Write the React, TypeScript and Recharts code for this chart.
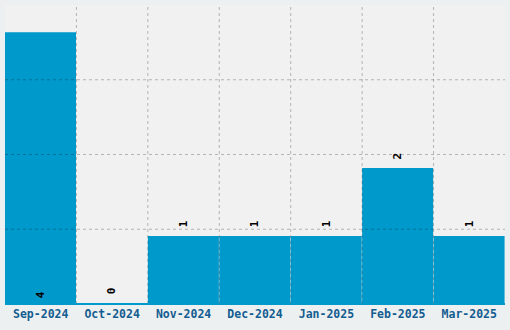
import * as React from 'react';
import { BarChart, Bar, XAxis, YAxis, ReferenceLine, LabelList } from 'recharts';

const months = ['Sep-2024', 'Oct-2024', 'Nov-2024', 'Dec-2024', 'Jan-2025', 'Feb-2025', 'Mar-2025'];
const counts = [4, 0, 1, 1, 1, 2, 1];
const yTicks = [0, 1.1, 2.2, 3.3, 4.4];
const colBounds = [1, 2, 3, 4, 5, 6];

const data = months.map((m, i) => ({ month: m, count: counts[i], idx: i + 0.5 }));
const maxCount = Math.max(...counts);

const grid = 'rgba(0,0,0,0.25)';
const mono = '"DejaVu Sans Mono", monospace';

const ValueLabel = (props: any) => {
  const { x, y, width, height, value } = props;
  const cx = x + width / 2;
  const cy = value === maxCount ? y + height - 9 : y - 12;
  return (
    <text
      x={cx}
      y={cy}
      transform={`rotate(-90 ${cx} ${cy})`}
      textAnchor="middle"
      dominantBaseline="central"
      fontFamily={mono}
      fontWeight="bold"
      fontSize={11}
      fill="#000"
    >
      {String(value)}
    </text>
  );
};

const App: React.FC = () => {
  return (
    <div style={{ position: 'absolute', left: 0, top: 0, width: 510, height: 330, background: '#edf0f0' }}>
      <BarChart width={510} height={330} data={data} margin={{ top: 5, right: 5, bottom: 0, left: 5 }} barCategoryGap={0}>
        <rect x={5} y={5} width={500} height={299} fill="#f1f1f1" />
        <XAxis
          dataKey="month"
          height={26}
          tickLine={false}
          axisLine={{ stroke: '#0099cc', strokeWidth: 2 }}
          tick={{ fill: '#135d91', fontFamily: mono, fontWeight: 'bold', fontSize: 11.5, dy: -2 }}
          interval={0}
        />
        <XAxis xAxisId="n" type="number" dataKey="idx" domain={[0, 7]} hide />
        <YAxis hide domain={[0, 4.4]} ticks={yTicks} />
        <Bar dataKey="count" fill="#0099cc" minPointSize={1} isAnimationActive={false}>
          <LabelList dataKey="count" content={<ValueLabel />} />
        </Bar>
        {yTicks.slice(1, 4).map((t) => (
          <ReferenceLine key={'h' + t} y={t} stroke={grid} strokeDasharray="3 3" />
        ))}
        {colBounds.map((b) => (
          <ReferenceLine key={'v' + b} x={b} xAxisId="n" stroke={grid} strokeDasharray="3 3" />
        ))}
      </BarChart>
    </div>
  );
};

export default App;
